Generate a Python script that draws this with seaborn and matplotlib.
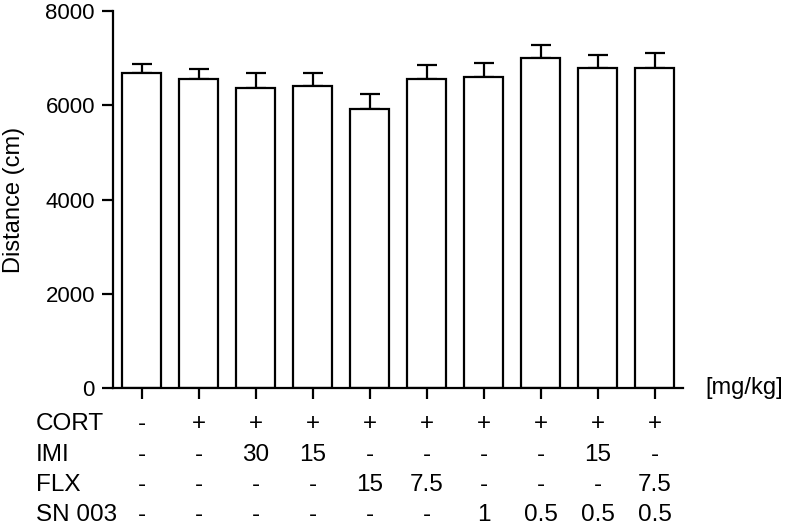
import numpy as np
import pandas as pd
import seaborn as sns
import matplotlib.pyplot as plt

# valores
grupos = ['G1', 'G2', 'G3', 'G4', 'G5', 'G6', 'G7', 'G8', 'G9', 'G10']
media = [6690, 6560, 6370, 6410, 5930, 6560, 6590, 7000, 6800, 6800]
erro = [180, 210, 320, 270, 300, 290, 300, 280, 270, 300]

cort = ['-', '+', '+', '+', '+', '+', '+', '+', '+', '+']
imi = ['-', '-', '30', '15', '-', '-', '-', '-', '15', '-']
flx = ['-', '-', '-', '-', '15', '7.5', '-', '-', '-', '7.5']
sn003 = ['-', '-', '-', '-', '-', '-', '1', '0.5', '0.5', '0.5']
linhas = ['CORT', 'IMI', 'FLX', 'SN 003']

df = pd.DataFrame({'grupo': grupos, 'media': media, 'erro': erro})

sns.set_style('ticks')
plt.rcParams['font.family'] = ['Liberation Sans', 'DejaVu Sans']
plt.rcParams['text.color'] = 'black'

fig = plt.figure(figsize=(7.88, 5.25), dpi=100)
ax = fig.add_axes([113 / 788, 1 - 388 / 525, 570 / 788, 377 / 525])

sns.barplot(data=df, x='grupo', y='media', color='white', edgecolor='black',
            linewidth=1.6, width=0.67, errorbar=None, ax=ax, zorder=2)
for p in ax.patches:
    p.set_facecolor('white')

x = np.arange(len(grupos))
ax.errorbar(x, df['media'], yerr=[np.zeros(len(erro)), df['erro']], fmt='none',
            ecolor='black', elinewidth=1.6, capsize=7, capthick=1.6, zorder=1)

ax.set_xlim(-0.5, 9.5)
ax.set_ylim(0, 8000)
ax.set_yticks([0, 2000, 4000, 6000, 8000])
ax.set_xticks(x)
ax.set_xticklabels([])
ax.set_xlabel('')
ax.set_ylabel('Distance (cm)', fontsize=17, color='black')
ax.yaxis.set_label_coords(-0.155, 0.5)
ax.tick_params(axis='both', width=1.6, length=8, pad=5, direction='out',
               labelsize=16, color='black', labelcolor='black')
sns.despine(ax=ax)
for s in ['left', 'bottom']:
    ax.spines[s].set_linewidth(1.6)
    ax.spines[s].set_color('black')

ax.text(705 / 788 * 788 / 570 - 113 / 570, 0, '[mg/kg]', transform=ax.transAxes,
        ha='left', va='center', fontsize=17)

# tabela de tratamentos abaixo do eixo
trans = ax.get_xaxis_transform()
linhas_y = [424, 455, 485, 515]
for nome, valores, yp in zip(linhas, [cort, imi, flx, sn003], linhas_y):
    fy = 1 - yp / 525
    fig.text(36 / 788, fy, nome, ha='left', va='center', fontsize=17.5)
    for xi, v in zip(x, valores):
        ax.text(xi, (388 - yp) / 377, v, transform=trans, ha='center', va='center',
                fontsize=17.5, clip_on=False)

plt.savefig('out.png', dpi=100)
